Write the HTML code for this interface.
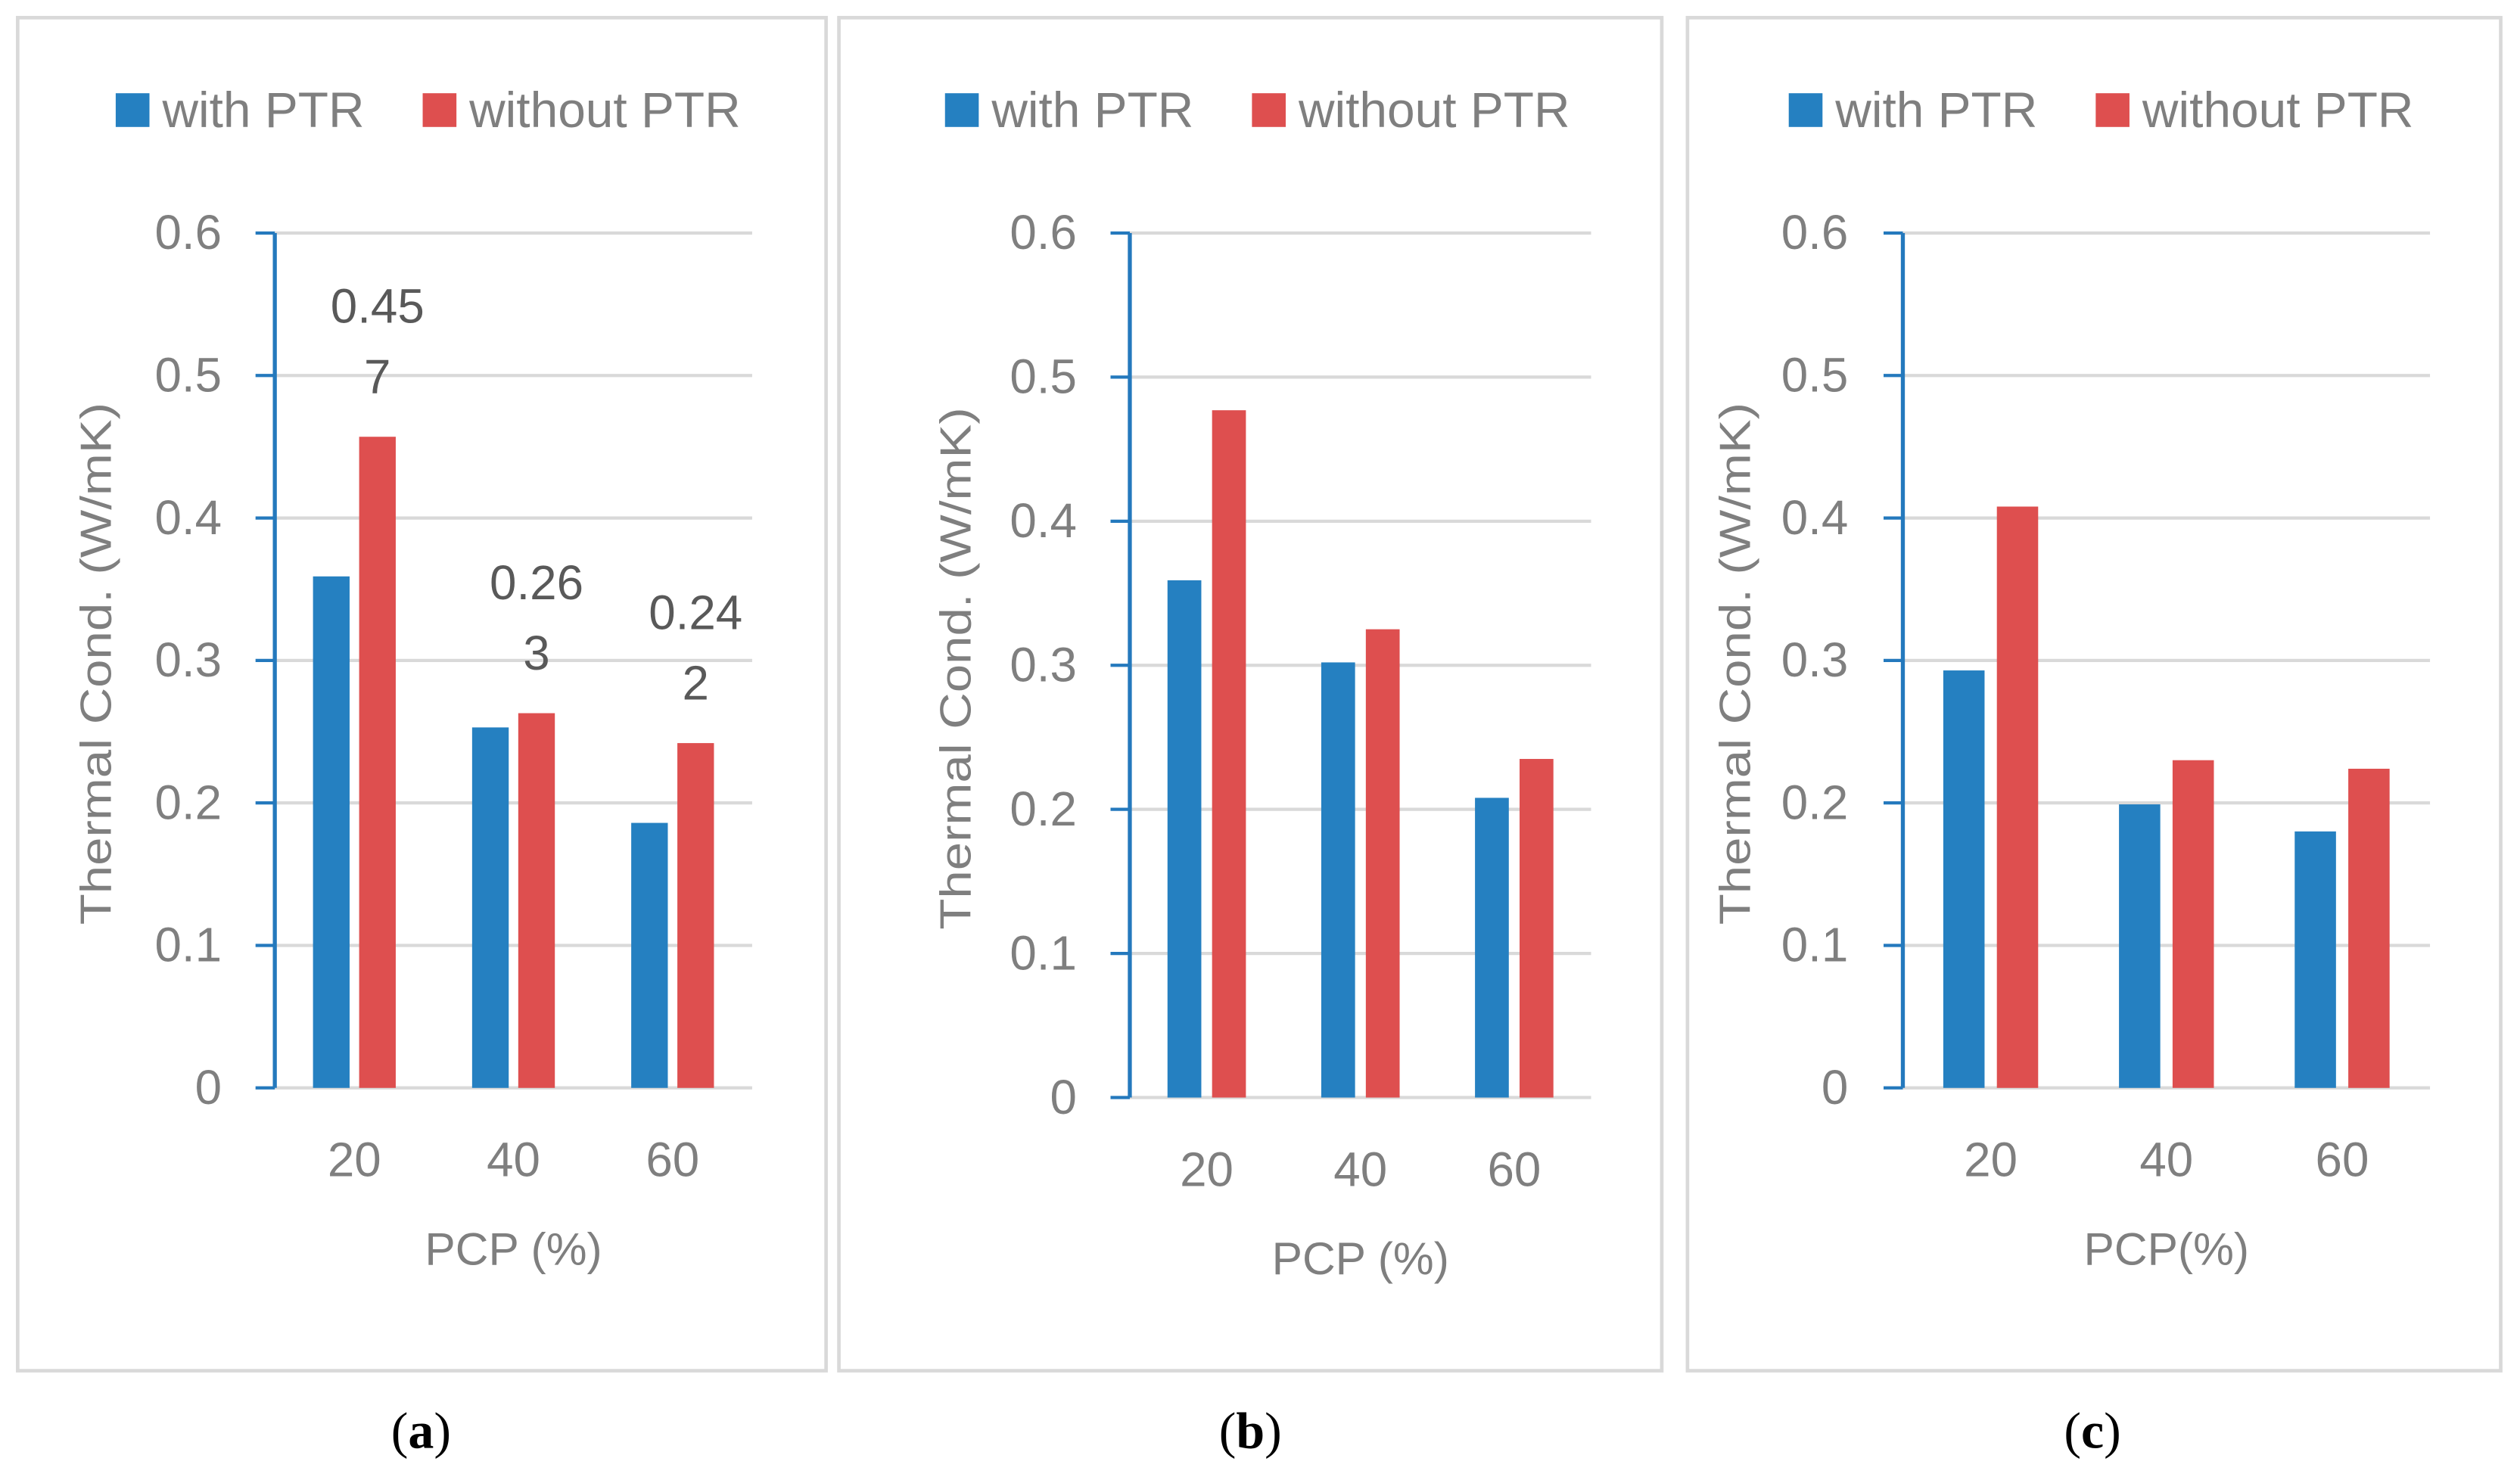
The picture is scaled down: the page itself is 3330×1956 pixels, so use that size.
<!DOCTYPE html>
<html><head><meta charset="utf-8"><style>
html,body{margin:0;padding:0;background:#fff;}
svg{display:block;}
text{font-family:"Liberation Sans",sans-serif;}
</style></head><body>
<svg id="fig" width="3330" height="1956" viewBox="0 0 1568 921" xmlns="http://www.w3.org/2000/svg"></svg>
<script>
const categories = ["20","40","60"];
const yTicks = [0,0.1,0.2,0.3,0.4,0.5,0.6];
const seriesNames = ["with PTR","without PTR"];
const withA = [0.359,0.253,0.186];
const withoutA = [0.457,0.263,0.242];
const withB = [0.359,0.302,0.208];
const withoutB = [0.477,0.325,0.235];
const withC = [0.293,0.199,0.180];
const withoutC = [0.408,0.230,0.224];
const labelsA = [["0.45","7"],["0.26","3"],["0.24","2"]];

const NS="http://www.w3.org/2000/svg";
const svg=document.getElementById('fig');
function mk(tag,attrs,parent,text){const e=document.createElementNS(NS,tag);for(const k in attrs)e.setAttribute(k,attrs[k]);if(text!==undefined)e.textContent=text;(parent||svg).appendChild(e);return e;}

const panels=[
 {id:'a',box:[11,11,503,842],ax:171,top:145,bot:677,right:468,bw:0.23,gap:0.06,leg:[72,263],cap:262,title:"PCP (%)",ticksR:138,xl:722,xt:777,yt:60,w:withA,wo:withoutA,labels:labelsA},
 {id:'b',box:[522,11,512,842],ax:703,top:145,bot:683,right:990,bw:0.22,gap:0.07,leg:[588,779],cap:778,title:"PCP (%)",ticksR:670,xl:728,xt:783,yt:595,w:withB,wo:withoutB,labels:null},
 {id:'c',box:[1050,11,506,842],ax:1184,top:145,bot:677,right:1512,bw:0.235,gap:0.07,leg:[1113,1304],cap:1302,title:"PCP(%)",ticksR:1150,xl:722,xt:777,yt:1080,w:withC,wo:withoutC,labels:null}
];
panels.forEach(p=>{
 const g=mk('g',{},svg);
 
 
 const b=mk('rect',{x:p.box[0],y:p.box[1],width:p.box[2],height:p.box[3],fill:'none',stroke:'#d9d9d9','stroke-width':2.2},g);
 
 
 const y=v=>p.bot-(v/0.6)*(p.bot-p.top);
 const catW=(p.right-p.ax)/categories.length;
 const x=i=>p.ax+catW*(i+0.5);
 const cols=['#2580c1','#de4f4f'];
 seriesNames.forEach((n,k)=>{
  const lx=p.leg[k];
  const r=mk('rect',{x:lx,y:58,width:21,height:21,fill:cols[k]},g);
  
  
  const t=mk('text',{x:lx+29,y:79,'font-size':31,fill:'#7f7f7f'},g,n);
  
  
 });
 yTicks.forEach(v=>{
  const gl=mk('line',{x1:p.ax,x2:p.right,y1:y(v),y2:y(v),stroke:'#d9d9d9','stroke-width':2},g);
  
  
  const tk=mk('line',{x1:p.ax-12,x2:p.ax,y1:y(v),y2:y(v),stroke:'#2479bd','stroke-width':2},g);
  
  
  const tl=mk('text',{x:p.ticksR,y:y(v)+10,'font-size':30,fill:'#7f7f7f','text-anchor':'end'},g,String(v));
  
  
 });
 const bw=catW*p.bw, gp=catW*p.gap;
 categories.forEach((c,i)=>{
  const b1=mk('rect',{x:x(i)-gp/2-bw,y:y(p.w[i]),width:bw,height:y(0)-y(p.w[i]),fill:cols[0]},g);
  
  
  const b2=mk('rect',{x:x(i)+gp/2,y:y(p.wo[i]),width:bw,height:y(0)-y(p.wo[i]),fill:cols[1]},g);
  
  
  if(p.labels){
   const cx=x(i)+gp/2+bw/2;
   const l1=mk('text',{x:cx,y:y(p.wo[i])-71,'font-size':30,fill:'#595959','text-anchor':'middle'},g,p.labels[i][0]);
   
   
   const l2=mk('text',{x:cx,y:y(p.wo[i])-27,'font-size':30,fill:'#595959','text-anchor':'middle'},g,p.labels[i][1]);
   
   
  }
  const xl=mk('text',{x:x(i),y:p.xl+10,'font-size':30,fill:'#7f7f7f','text-anchor':'middle'},g,c);
  
  
 });
 const axl=mk('line',{x1:p.ax,x2:p.ax,y1:p.top,y2:p.bot,stroke:'#2479bd','stroke-width':2.5},g);
 
 
 const xt=mk('text',{x:x(1),y:p.xt+10,'font-size':28.5,fill:'#7f7f7f','text-anchor':'middle'},g,p.title);
 
 
 const cy=(p.top+p.bot)/2+2;
 const yt=mk('text',{x:p.yt,y:cy,'font-size':27,fill:'#7f7f7f','text-anchor':'middle',transform:`rotate(-90 ${p.yt} ${cy})`,dy:9,textLength:325,lengthAdjust:'spacingAndGlyphs'},g,'Thermal Cond. (W/mK)');
 
 
 const cap=mk('text',{x:p.cap,y:901,'font-size':32,fill:'#000','text-anchor':'middle'},g);
 cap.style.fontFamily='"Liberation Serif",serif';
 cap.appendChild(document.createTextNode('('));
 mk('tspan',{'font-weight':'bold'},cap,p.id);
 cap.appendChild(document.createTextNode(')'));
 
 
});
</script>
</body></html>
